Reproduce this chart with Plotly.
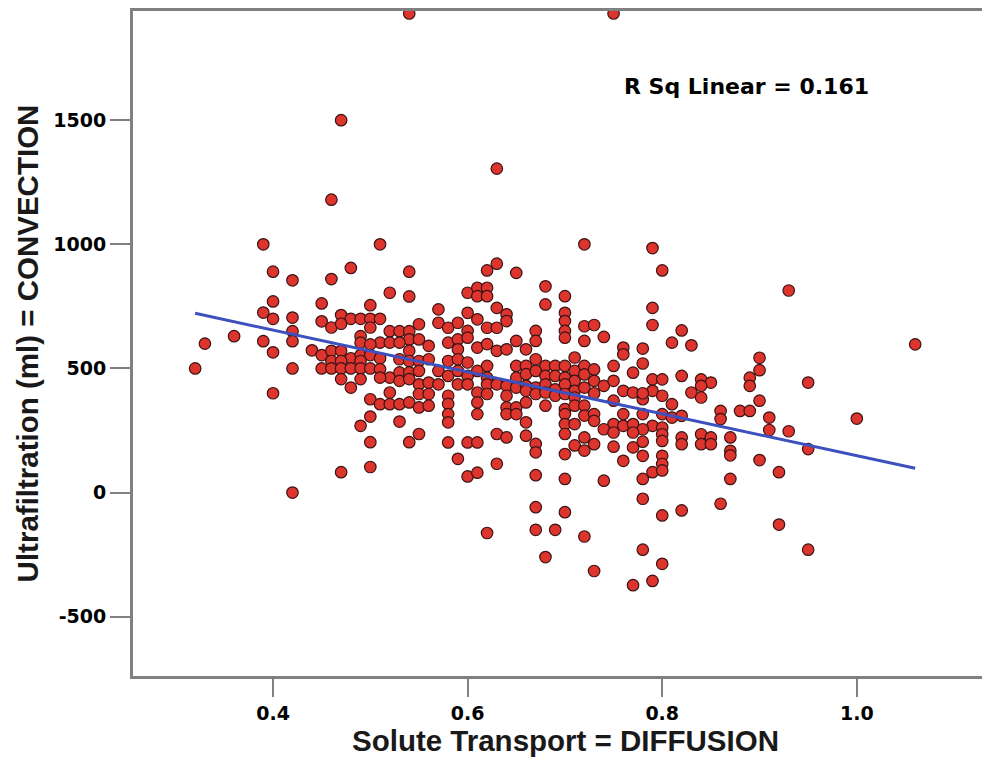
import plotly.graph_objects as go

# Solute transport (x) and ultrafiltration (y)
diffusion = [
    0.32, 0.33, 0.36, 0.54, 0.75, 0.47, 0.63, 0.46, 0.39, 0.51, 0.72, 0.79, 0.40, 0.48, 0.54, 0.80, 0.63, 0.62, 0.65, 0.42, 0.46, 0.52, 0.54,
    0.40, 0.45, 0.50, 0.39, 0.40, 0.42, 0.45, 0.47, 0.48, 0.49, 0.50, 0.51,
    0.46, 0.47, 0.50, 0.42, 0.42, 0.39, 0.40, 0.42, 0.40, 0.42,
    0.49, 0.52, 0.53, 0.54, 0.54, 0.51, 0.52, 0.49, 0.50, 0.53,
    0.44, 0.45, 0.46, 0.47, 0.48, 0.49, 0.50, 0.51, 0.53, 0.54,
    0.46, 0.47, 0.49, 0.54, 0.45, 0.46, 0.47, 0.48, 0.49, 0.50, 0.51, 0.52, 0.53, 0.54,
    0.47, 0.48, 0.49, 0.51, 0.53, 0.54, 0.50, 0.51, 0.52, 0.53, 0.54, 0.52,
    0.50, 0.49, 0.53, 0.54, 0.50, 0.50, 0.47,
    0.60, 0.61, 0.62, 0.61, 0.62, 0.68, 0.70, 0.68,
    0.57, 0.60, 0.63, 0.64, 0.61, 0.64, 0.70, 0.70, 0.70, 0.70,
    0.55, 0.57, 0.58, 0.59, 0.60, 0.62, 0.63, 0.65, 0.67, 0.67,
    0.55, 0.56, 0.58, 0.59, 0.60, 0.59, 0.61, 0.62, 0.63, 0.64, 0.66, 0.71,
    0.55, 0.56, 0.58, 0.59, 0.60, 0.62, 0.65, 0.66, 0.67, 0.68, 0.69, 0.70, 0.71,
    0.55, 0.57, 0.58, 0.59, 0.60, 0.61, 0.62, 0.65, 0.66, 0.67, 0.68, 0.69, 0.70, 0.71,
    0.55, 0.56, 0.57, 0.59, 0.60, 0.62, 0.63, 0.64, 0.65, 0.66, 0.67, 0.68, 0.69, 0.70, 0.71,
    0.55, 0.56, 0.58, 0.61, 0.62, 0.64, 0.66, 0.67, 0.68, 0.69, 0.70, 0.71,
    0.55, 0.56, 0.58, 0.61, 0.64, 0.65, 0.66, 0.68, 0.70, 0.71,
    0.58, 0.61, 0.64, 0.65, 0.70, 0.58, 0.70, 0.71, 0.66,
    0.55, 0.58, 0.60, 0.61, 0.63, 0.64, 0.66, 0.67, 0.70, 0.70, 0.67, 0.59, 0.63, 0.71,
    0.60, 0.61, 0.67, 0.70, 0.62, 0.67, 0.67, 0.69, 0.68, 0.70,
    0.72, 0.72, 0.72, 0.72, 0.72, 0.72, 0.72, 0.72, 0.72,
    0.79, 0.79, 0.82, 0.81, 0.83, 0.73, 0.74, 0.76, 0.76, 0.78, 0.78, 0.75, 0.73, 0.77,
    0.79, 0.80, 0.82, 0.84, 0.85, 0.84, 0.83, 0.84, 0.73, 0.74, 0.75, 0.76, 0.77, 0.78, 0.79, 0.80, 0.81,
    0.73, 0.75, 0.78, 0.73, 0.76, 0.78, 0.80, 0.81,
    0.73, 0.75, 0.76, 0.77, 0.79, 0.80, 0.82, 0.86, 0.86, 0.88, 0.89, 0.89, 0.74, 0.78,
    0.75, 0.77, 0.80, 0.82, 0.84, 0.85, 0.87, 0.73, 0.77, 0.80, 0.82, 0.84, 0.85, 0.87, 0.75, 0.78,
    0.76, 0.78, 0.80, 0.80, 0.79, 0.78, 0.74, 0.87, 0.80,
    0.72, 0.78, 0.78, 0.80, 0.80, 0.82, 0.73, 0.77, 0.79, 0.86,
    0.93, 1.06, 0.90, 0.90, 0.95, 0.90, 0.91, 0.91, 0.93, 1.00, 0.95, 0.90, 0.92, 0.92, 0.95, 0.89, 0.87,
]

convection = [
    500, 600, 630, 1930, 1930, 1500, 1305, 1180, 1000, 1000, 1000, 985, 890, 905, 890, 895, 922, 895, 885, 855, 860, 805, 790,
    770, 762, 755, 725, 700, 705, 690, 715, 700, 700, 700, 700,
    665, 680, 665, 650, 610, 610, 565, 500, 400, 0,
    630, 650, 650, 650, 617, 604, 604, 604, 597, 604,
    573, 554, 571, 571, 541, 554, 554, 541, 537, 571,
    530, 530, 530, 530, 500, 500, 500, 500, 500, 500, 497, 463, 484, 484,
    457, 423, 457, 463, 450, 457, 376, 356, 356, 356, 363, 403,
    306, 269, 286, 203, 203, 103, 82,
    805, 825, 825, 791, 791, 831, 791, 758,
    738, 724, 744, 718, 698, 691, 724, 691, 651, 624,
    678, 684, 664, 684, 651, 664, 664, 611, 651, 611,
    617, 591, 604, 617, 624, 577, 584, 598, 571, 577, 577, 544,
    530, 537, 530, 537, 524, 510, 510, 510, 537, 510, 510, 510, 490,
    490, 490, 470, 490, 470, 490, 463, 463, 477, 490, 470, 470, 463, 450,
    436, 443, 436, 436, 436, 436, 436, 430, 423, 430, 423, 436, 416, 436, 410,
    397, 397, 390, 403, 397, 390, 410, 397, 403, 390, 397, 383,
    343, 350, 357, 363, 343, 343, 363, 350, 336, 350,
    316, 316, 316, 316, 316, 283, 276, 276, 283,
    236, 202, 202, 202, 236, 222, 229, 196, 236, 155, 162, 136, 116, 190,
    65, 80, 70, 55, -163, -59, -150, -150, -260, -79,
    670, 611, 510, 476, 423, 350, 310, 222, 169,
    744, 675, 653, 604, 593, 675, 627, 584, 557, 580, 520, 510, 496, 483,
    456, 456, 470, 456, 443, 430, 403, 383, 450, 430, 450, 410, 403, 376, 410, 390, 356,
    400, 370, 400, 316, 316, 316, 316, 302,
    289, 276, 269, 276, 269, 262, 309, 329, 296, 329, 463, 430, 255, 255,
    242, 242, 235, 222, 235, 222, 222, 195, 182, 208, 195, 195, 195, 168, 185, 205,
    128, 148, 148, 115, 82, 55, 48, 55, 89,
    -177, -25, -230, -92, -287, -72, -316, -373, -356, -45,
    814, 597, 543, 493, 443, 370, 302, 252, 247, 298, 175, 131, 82, -129, -230, 329, 150,
]

assert len(diffusion) == len(convection)

# Linear fit line end points (as drawn in the reference)
fit_x = [0.32, 1.06]
fit_y = [722, 98]

x_ticks = [0.4, 0.6, 0.8, 1.0]
x_tick_labels = ["0.4", "0.6", "0.8", "1.0"]
y_ticks = [-500, 0, 500, 1000, 1500]
y_tick_labels = ["-500", "0", "500", "1000", "1500"]

r_sq_text = "R Sq Linear = 0.161"

fig = go.Figure()
fig.add_trace(go.Scatter(
    x=diffusion, y=convection, mode="markers",
    marker=dict(size=11.5, color="rgb(222,52,46)",
                line=dict(color="rgb(60,20,20)", width=1.2)),
    cliponaxis=False, showlegend=False, hoverinfo="skip",
))
fig.add_trace(go.Scatter(
    x=fit_x, y=fit_y, mode="lines",
    line=dict(color="rgb(60,80,190)", width=3),
    showlegend=False, hoverinfo="skip",
))

axis_grey = "rgb(128,128,128)"
tick_font = dict(family="DejaVu Sans", size=19, color="black", weight="bold")
title_font = dict(family="Liberation Sans, Arial", size=29.5, color="rgb(25,25,25)", weight="bold")

fig.update_layout(
    width=990, height=765,
    margin=dict(l=125, r=0, t=1, b=97),
    paper_bgcolor="white", plot_bgcolor="white",
    xaxis=dict(
        range=[0.2561, 1.1451],
        tickvals=x_ticks, ticktext=x_tick_labels,
        ticks="outside", ticklen=18, tickwidth=2, tickcolor=axis_grey,
        showline=True, linecolor=axis_grey, linewidth=3, mirror=True,
        showgrid=False, zeroline=False,
        tickfont=tick_font,
        title=dict(text="Solute Transport = DIFFUSION", font=title_font, standoff=4),
    ),
    yaxis=dict(
        range=[-739, 1940],
        tickvals=y_ticks, ticktext=y_tick_labels,
        ticks="outside", ticklen=20, tickwidth=2, tickcolor=axis_grey,
        showline=True, linecolor=axis_grey, linewidth=3,
        showgrid=False, zeroline=False,
        tickfont=tick_font,
        title=dict(text="Ultrafiltration (ml) = CONVECTION", font=title_font, standoff=6),
    ),
    annotations=[dict(
        x=0.759, y=1634, xref="x", yref="y", text=r_sq_text,
        showarrow=False, xanchor="left", yanchor="middle",
        font=dict(family="DejaVu Sans", size=22, color="black", weight="bold"),
    )],
)

fig.write_html("out.html")
